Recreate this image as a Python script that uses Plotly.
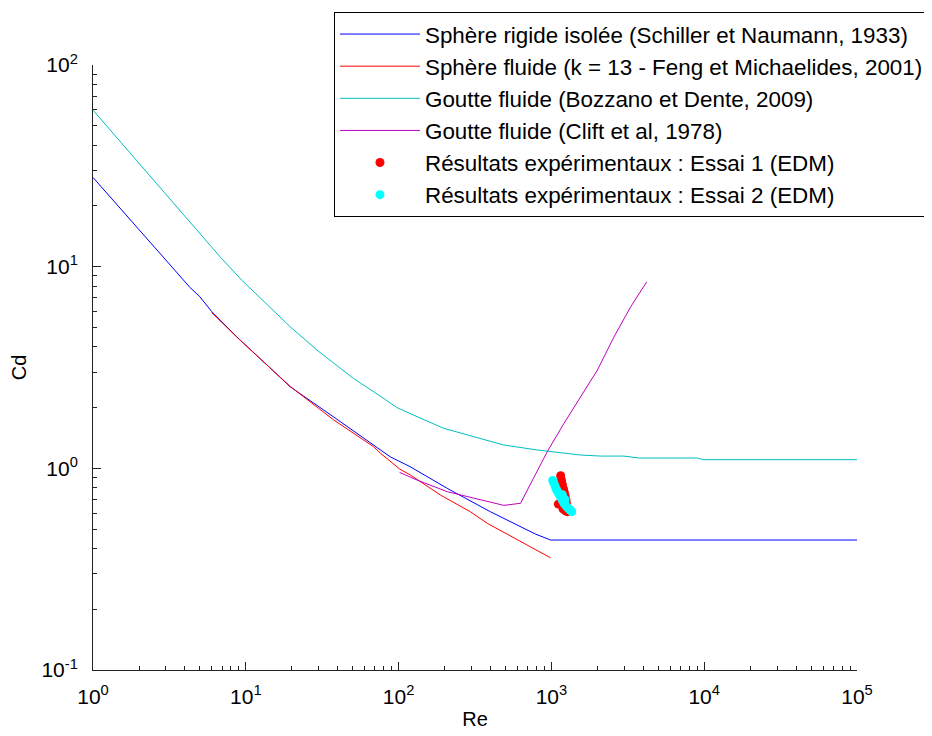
import plotly.graph_objects as go

# ---- data ----
re_schiller = [1, 4.31, 5.0, 5.97, 8.72, 19.5, 37.5, 75.9, 88.3, 118.7, 208, 399, 628, 787, 988, 1e5]
cd_schiller = [27.7, 7.89, 7.1, 6.0, 4.49, 2.54, 1.80, 1.24, 1.14, 1.02, 0.796, 0.609, 0.513, 0.472, 0.441, 0.441]

re_feng = [5.97, 8.72, 19.5, 37.5, 68.6, 75.9, 102, 118.7, 188, 295, 380, 695, 988]
cd_feng = [5.93, 4.48, 2.55, 1.74, 1.28, 1.19, 0.99, 0.93, 0.737, 0.609, 0.534, 0.417, 0.36]

re_bozzano = [1, 6.78, 9.4, 19.5, 29.2, 39.4, 50.7, 75.9, 97.7, 118.7, 197, 488, 808, 1553, 2103, 2985, 3750, 9055, 9770, 1e5]
cd_bozzano = [59.7, 11.2, 8.58, 5.04, 3.86, 3.25, 2.79, 2.28, 2.0, 1.87, 1.58, 1.305, 1.233, 1.164, 1.15, 1.15, 1.125, 1.125, 1.104, 1.104]

re_clift = [101.5, 132, 208, 343, 488, 628, 940, 1208, 1553, 2000, 2570, 3305, 4207]
cd_clift = [0.955, 0.875, 0.766, 0.696, 0.655, 0.671, 1.21, 1.67, 2.26, 3.07, 4.49, 6.33, 8.41]

re_essai1 = [1150, 1165, 1180, 1200, 1215, 1230, 1245, 1255, 1240, 1200, 1150, 1110, 1190, 1260, 1275, 1235]
cd_essai1 = [0.92, 0.87, 0.83, 0.79, 0.76, 0.73, 0.70, 0.67, 0.64, 0.66, 0.68, 0.665, 0.63, 0.62, 0.61, 0.615]

re_essai2 = [1020, 1035, 1055, 1075, 1095, 1115, 1140, 1160, 1185, 1210, 1240, 1270, 1300, 1330, 1360, 1180, 1230]
cd_essai2 = [0.87, 0.85, 0.82, 0.79, 0.77, 0.75, 0.73, 0.71, 0.69, 0.67, 0.655, 0.64, 0.63, 0.62, 0.61, 0.74, 0.70]

names = [
    "Sphère rigide isolée (Schiller et Naumann, 1933)",
    "Sphère fluide (k = 13 - Feng et Michaelides, 2001)",
    "Goutte fluide (Bozzano et Dente, 2009)",
    "Goutte fluide (Clift et al, 1978)",
    "Résultats expérimentaux : Essai 1 (EDM)",
    "Résultats expérimentaux : Essai 2 (EDM)",
]

x_ticks = [1, 10, 100, 1000, 10000, 100000]
x_ticktext = ["10<sup>0</sup>", "10<sup>1</sup>", "10<sup>2</sup>", "10<sup>3</sup>", "10<sup>4</sup>", "10<sup>5</sup>"]
y_ticks = [0.1, 1, 10, 100]
y_ticktext = ["10<sup>-1</sup>", "10<sup>0</sup>", "10<sup>1</sup>", "10<sup>2</sup>"]

FONT = "Liberation Sans, Arial, sans-serif"

fig = go.Figure()
fig.add_trace(go.Scatter(x=re_schiller, y=cd_schiller, mode="lines", name=names[0],
                         line=dict(color="#0000FF", width=1), legendgroup="a"))
fig.add_trace(go.Scatter(x=re_feng, y=cd_feng, mode="lines", name=names[1],
                         line=dict(color="#FF0000", width=1), legendgroup="b"))
fig.add_trace(go.Scatter(x=re_bozzano, y=cd_bozzano, mode="lines", name=names[2],
                         line=dict(color="#00BFBF", width=1), legendgroup="c"))
fig.add_trace(go.Scatter(x=re_clift, y=cd_clift, mode="lines", name=names[3],
                         line=dict(color="#BF00BF", width=1), legendgroup="d"))
fig.add_trace(go.Scatter(x=re_essai1, y=cd_essai1, mode="markers", name=names[4],
                         marker=dict(color="#FF0000", size=9), legendgroup="e"))
fig.add_trace(go.Scatter(x=re_essai2, y=cd_essai2, mode="markers", name=names[5],
                         marker=dict(color="#00FFFF", size=9), legendgroup="f"))

axis_common = dict(
    type="log", showgrid=False, zeroline=False, showline=True, linecolor="#222222", linewidth=1,
    ticks="inside", ticklen=8, tickcolor="#222222", tickwidth=1,
    tickfont=dict(family=FONT, size=21, color="black"),
    minor=dict(ticks="inside", ticklen=4, tickcolor="#222222", dtick="D1", showgrid=False),
)

fig.update_xaxes(range=[0, 5], tickvals=x_ticks, ticktext=x_ticktext, ticklabelstandoff=8,
                 title=dict(text="Re", font=dict(family=FONT, size=20, color="black"), standoff=4),
                 **axis_common)
fig.update_yaxes(range=[-1, 2], tickvals=y_ticks, ticktext=y_ticktext, ticklabelstandoff=10,
                 title=dict(text="Cd", font=dict(family=FONT, size=20, color="black"), standoff=18),
                 **axis_common)

fig.update_layout(
    width=932, height=736,
    margin=dict(l=85, r=83, t=57, b=74, autoexpand=False),
    paper_bgcolor="white", plot_bgcolor="white",
    font=dict(family=FONT, color="black"),
    legend=dict(x=0.3154, y=1.0876, xanchor="left", yanchor="top",
                bgcolor="white", bordercolor="black", borderwidth=1,
                font=dict(family=FONT, size=22.4, color="black"),
                tracegroupgap=0, traceorder="grouped", itemwidth=80),
)

fig.write_html("out.html")
